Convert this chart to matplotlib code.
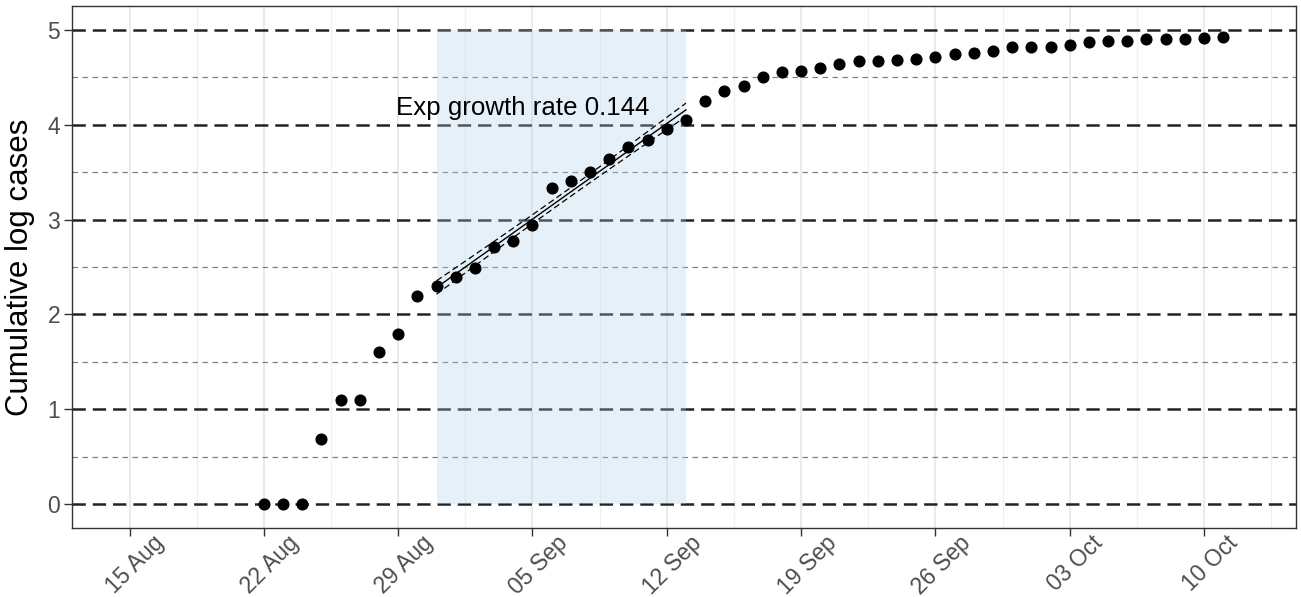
import numpy as np
import matplotlib.pyplot as plt
import matplotlib.dates as mdates
from matplotlib.ticker import MultipleLocator
from matplotlib.transforms import ScaledTranslation

plt.rcParams['font.family'] = ['Liberation Sans', 'DejaVu Sans']
plt.rcParams['lines.scale_dashes'] = False

# daily cumulative cases, natural log
dates = np.arange('2020-08-22', '2020-10-12', dtype='datetime64[D]')
log_cases = np.array([
    0.000, 0.000, 0.000, 0.693, 1.099, 1.099, 1.609, 1.792, 2.197,
    2.303, 2.398, 2.485, 2.708, 2.773, 2.944, 3.332, 3.401, 3.497,
    3.638, 3.761, 3.840, 3.951, 4.050,
    4.253, 4.351, 4.410, 4.505, 4.557, 4.568, 4.596, 4.644,
    4.673, 4.673, 4.683, 4.690, 4.715, 4.739, 4.753, 4.778,
    4.813, 4.820, 4.820, 4.841, 4.872, 4.879, 4.879,
    4.903, 4.903, 4.903, 4.911, 4.921])

# exponential growth window and fitted rate
fit_start = np.datetime64('2020-08-31')
fit_end = np.datetime64('2020-09-13')
growth_rate = 0.144
level_se = 0.023
rate_se = 0.0043

tick_dates = np.arange('2020-08-15', '2020-10-11', 7, dtype='datetime64[D]')
x_limits = (np.datetime64('2020-08-12T00:00'), np.datetime64('2020-10-14T19:00'))

in_window = (dates >= fit_start) & (dates <= fit_end)
t = (dates[in_window] - fit_start).astype(float)
tbar = t.mean()
level = log_cases[in_window].mean()
fit = level + growth_rate * (t - tbar)
half_width = 1.96 * np.sqrt(level_se ** 2 + (rate_se * (t - tbar)) ** 2)

fig = plt.figure(figsize=(13.01, 5.97), dpi=100)
ax = fig.add_axes([72 / 1301, 69 / 597, 1224 / 1301, 522 / 597])

ax.fill_betweenx([0, 5], fit_start, fit_end, color=(172/255, 208/255, 232/255),
                 alpha=0.3, lw=0, zorder=1)

ax.plot(dates[in_window], fit, color='black', lw=1.0, zorder=3)
ax.plot(dates[in_window], fit + half_width, color='black', lw=0.9,
        dashes=(4.5, 2.5), zorder=3)
ax.plot(dates[in_window], fit - half_width, color='black', lw=0.9,
        dashes=(4.5, 2.5), zorder=3)
ax.plot(dates, log_cases, 'o', color='black', markersize=7.7, zorder=4)

ax.text(np.datetime64('2020-09-04T12:00'), 4.10,
        f'Exp growth rate {growth_rate:.3f}', ha='center', va='baseline',
        fontsize=18.6, color='black', zorder=5)

# weekly ticks, minor grid halfway between them
half_week = np.timedelta64(84, 'h')
minor_dates = np.append(tick_dates - half_week, tick_dates[-1] + half_week)
ax.set_xticks(tick_dates)
ax.set_xticks(minor_dates, minor=True)
ax.xaxis.set_major_formatter(mdates.DateFormatter('%d %b'))
ax.yaxis.set_major_locator(MultipleLocator(1))
ax.yaxis.set_minor_locator(MultipleLocator(0.5))

ax.set_xlim(*x_limits)
ax.set_ylim(-0.25, 5.25)

ax.set_axisbelow(True)
ax.xaxis.grid(True, which='major', color='#EBEBEB', lw=1.5)
ax.xaxis.grid(True, which='minor', color='#F0F0F0', lw=0.9)
ax.yaxis.grid(True, which='major', color='#222222', lw=1.8, dashes=(9.6, 5.0))
ax.yaxis.grid(True, which='minor', color='#808080', lw=0.9, dashes=(4.0, 3.2))

for side in ax.spines.values():
    side.set_color('#333333')
    side.set_linewidth(1.0)

ax.tick_params(which='major', length=5.5, width=1.0, color='#333333',
               labelsize=16.5, labelcolor='#4D4D4D')
ax.tick_params(axis='y', which='major', pad=3)
ax.tick_params(axis='x', which='major', pad=-3)
ax.tick_params(which='minor', length=0)

shift = ScaledTranslation(6 / 100, 0, fig.dpi_scale_trans)
for lbl in ax.get_xticklabels():
    lbl.set_rotation(45)
    lbl.set_ha('center')
    lbl.set_va('top')
    lbl.set_transform(lbl.get_transform() + shift)

ax.set_ylabel('Cumulative log cases', fontsize=22.5, color='black', labelpad=9)

fig.savefig('out.png', dpi=100, facecolor='white')
